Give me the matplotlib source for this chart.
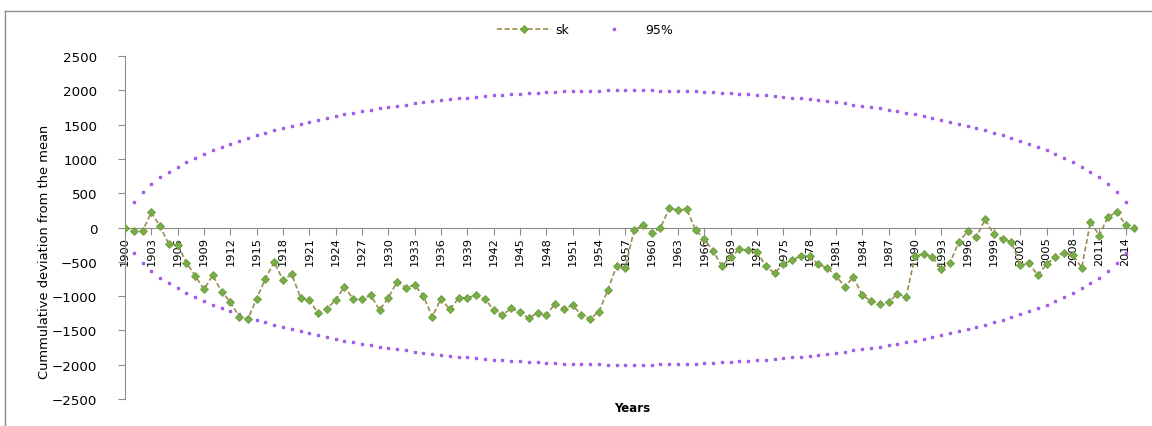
import numpy as np
import matplotlib.pyplot as plt
from matplotlib import font_manager
from matplotlib.lines import Line2D

years = list(range(1900, 2016))

# cumulative deviation from the mean
sk = [0, -49, -49, 219, 15, -244, -253, -511, -706, -901,
      -696, -935, -1081, -1300, -1334, -1037, -745, -502, -769, -682,
      -1023, -1062, -1248, -1183, -1057, -862, -1047, -1047, -989, -1203,
      -1023, -794, -877, -838, -998, -1305, -1037, -1193, -1032, -1023,
      -989, -1037, -1203, -1276, -1179, -1235, -1325, -1242, -1276, -1110,
      -1183, -1135, -1276, -1330, -1227, -916, -560, -584, -39, 34,
      -73, -10, 282, 253, 268, -34, -170, -341, -560, -430,
      -317, -331, -355, -560, -667, -530, -480, -410, -420, -536,
      -590, -700, -867, -721, -989, -1071, -1120, -1081, -974, -1008,
      -420, -385, -433, -609, -516, -207, -58, -136, 117, -102,
      -170, -209, -553, -523, -694, -536, -426, -370, -400, -587,
      85, -117, 156, 224, 42, 0]

# 95% confidence limits
upper95 = [0, 371, 523, 638, 733, 816, 889, 956, 1018, 1074,
           1127, 1176, 1223, 1266, 1308, 1347, 1384, 1420, 1453, 1485,
           1516, 1545, 1573, 1600, 1625, 1650, 1673, 1695, 1717, 1737,
           1756, 1775, 1792, 1809, 1825, 1840, 1855, 1868, 1881, 1894,
           1905, 1916, 1926, 1935, 1944, 1952, 1959, 1966, 1972, 1978,
           1983, 1987, 1991, 1994, 1996, 1998, 1999, 2000,
           2000, 1999, 1998, 1996, 1994, 1991, 1987, 1983, 1978, 1972,
           1966, 1959, 1952, 1944, 1935, 1926, 1916, 1905, 1894, 1881,
           1868, 1855, 1840, 1825, 1809, 1792, 1775, 1756, 1737, 1717,
           1695, 1673, 1650, 1625, 1600, 1573, 1545, 1516, 1485, 1453,
           1420, 1384, 1347, 1308, 1266, 1223, 1176, 1127, 1074, 1018,
           956, 889, 816, 733, 638, 523, 371, 0]
lower95 = [-v for v in upper95]

xticks = list(range(1900, 2015, 3))
yticks = list(range(-2500, 2501, 500))

# narrow face for the axis texts if one is around
installed = {f.name for f in font_manager.fontManager.ttflist}
if 'Liberation Sans Narrow' in installed:
    narrow, xt_size, yl_size = 'Liberation Sans Narrow', 10, 12
else:
    narrow, xt_size, yl_size = 'DejaVu Sans', 8.2, 9.4

grey = '#8c8c8c'
purple = '#a35de6'
green = '#78ad48'
olive = '#9d8b50'

fig = plt.figure(figsize=(11.52, 4.27), dpi=100)
ax = fig.add_axes([125 / 1152, 1 - 400 / 427, 1012 / 1152, 343 / 427])

ax.plot(years, upper95, ls='none', marker='s', ms=2.1, color=purple, mec=purple)
ax.plot(years, lower95, ls='none', marker='s', ms=2.1, color=purple, mec=purple)
ax.plot(years, sk, ls=(0, (3, 1.6)), lw=1.2, color=olive,
        marker='D', ms=4.4, mfc=green, mec='#6b9c3e', mew=0.6, zorder=3)

ax.set_xlim(1900, 2015.3)
ax.set_ylim(-2500, 2500)
ax.set_yticks(yticks)
ax.set_xticks(xticks)
ax.tick_params(axis='y', direction='out', length=5, color=grey, pad=15,
               labelsize=9.6)
ax.tick_params(axis='x', direction='out', length=5, color=grey, pad=1,
               labelrotation=90, labelsize=xt_size, labelfontfamily=narrow)

ax.spines['top'].set_visible(False)
ax.spines['right'].set_visible(False)
ax.spines['left'].set_color(grey)
ax.spines['bottom'].set_color(grey)
ax.spines['bottom'].set_position(('data', 0))
ax.set_facecolor('none')

fig.text(45 / 1152, 1 - 252 / 427, 'Cummulative deviation from the mean',
         rotation=90, ha='center', va='center', family=narrow,
         fontsize=yl_size)
fig.text(632 / 1152, 1 - 409 / 427, 'Years', ha='center', va='center',
         fontsize=8.5, fontweight='bold')

handles = [
    Line2D([], [], ls=(0, (3, 1.6)), lw=1.2, color=olive, marker='D', ms=4.4,
           mfc=green, mec='#6b9c3e', mew=0.6),
    Line2D([], [], ls='none', marker='s', ms=2.1, color=purple),
]
fig.legend(handles, ['sk', '95%'], loc='center', ncol=2, frameon=False,
           bbox_to_anchor=(0.508, 1 - 31 / 427), handlelength=4.3,
           handletextpad=0.4, columnspacing=1.4, fontsize=9, numpoints=1)

# chart border
fig.add_artist(Line2D([5 / 1152, 5 / 1152], [0, 1 - 12 / 427], color=grey, lw=1))
fig.add_artist(Line2D([5 / 1152, 1], [1 - 12 / 427, 1 - 12 / 427], color=grey, lw=1))

fig.savefig('out.png', dpi=100)
